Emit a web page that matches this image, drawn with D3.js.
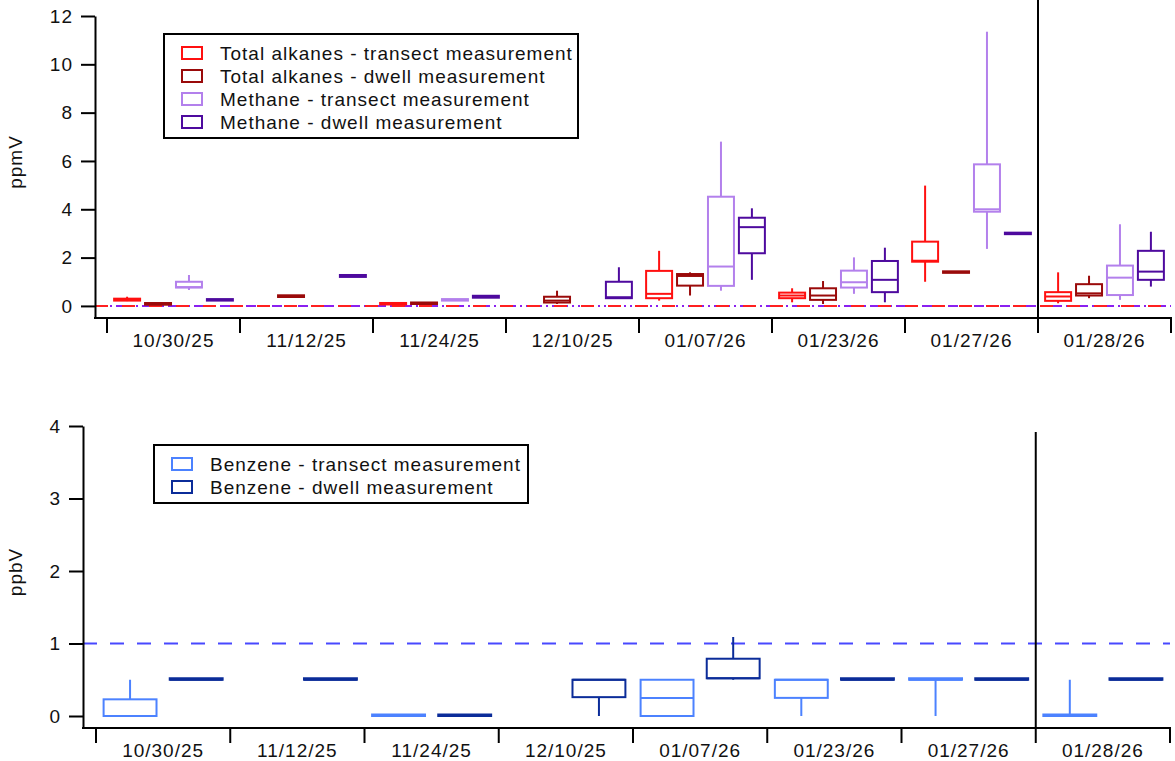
<!DOCTYPE html>
<html>
<head>
<meta charset="utf-8">
<script src="https://cdn.jsdelivr.net/npm/d3@7"></script>
<style>
  body { margin: 0; background: #fff; }
  text { font-family: "Liberation Sans", Arial, sans-serif; fill: #111; letter-spacing: 1px; }
</style>
</head>
<body>
<div id="chart"></div>
<script>

// categories (sampling dates)
var dates = ["10/30/25", "11/12/25", "11/24/25", "12/10/25", "01/07/26", "01/23/26", "01/27/26", "01/28/26"];

// box stats per date: [min, q1, median, q3, max], null = no measurement
var alkTransect = [
  [0.2, 0.22, 0.25, 0.3, 0.38], null, [0.06, 0.06, 0.08, 0.1, 0.1], null,
  [0.22, 0.32, 0.5, 1.45, 2.28], [0.15, 0.32, 0.43, 0.55, 0.73],
  [1.0, 1.83, 1.87, 2.66, 4.98], [0.11, 0.21, 0.39, 0.57, 1.39]
];
var alkDwell = [
  [0.05, 0.05, 0.08, 0.12, 0.12], [0.37, 0.37, 0.4, 0.44, 0.44],
  [0.08, 0.08, 0.1, 0.13, 0.13], [0.08, 0.14, 0.22, 0.38, 0.63],
  [0.43, 0.84, 1.24, 1.32, 1.39], [0.08, 0.25, 0.43, 0.73, 1.03],
  [1.37, 1.37, 1.4, 1.43, 1.43], [0.32, 0.43, 0.52, 0.9, 1.25]
];
var methTransect = [
  [0.66, 0.76, 0.78, 1.0, 1.28], null, [0.22, 0.22, 0.25, 0.28, 0.28], null,
  [0.63, 0.83, 1.63, 4.52, 6.8], [0.5, 0.76, 0.98, 1.46, 2.01],
  [2.36, 3.9, 4.0, 5.86, 11.35], [0.25, 0.45, 1.17, 1.67, 3.38]
];
var methDwell = [
  [0.22, 0.22, 0.25, 0.28, 0.28], [1.2, 1.2, 1.24, 1.28, 1.28],
  [0.34, 0.34, 0.38, 0.42, 0.42], [0.3, 0.32, 0.36, 1.0, 1.6],
  [1.08, 2.18, 3.26, 3.65, 4.04], [0.15, 0.57, 1.08, 1.86, 2.41],
  [2.97, 2.97, 3.0, 3.03, 3.03], [0.8, 1.08, 1.42, 2.28, 3.07]
];
var benzTransect = [
  [0, 0, 0, 0.23, 0.5], null, [0, 0, 0, 0, 0], null,
  [0, 0, 0.25, 0.5, 0.5], [0, 0.25, 0.5, 0.5, 0.5],
  [0, 0.5, 0.5, 0.5, 0.5], [0, 0, 0, 0, 0.5]
];
var benzDwell = [
  [0.5, 0.5, 0.5, 0.5, 0.5], [0.5, 0.5, 0.5, 0.5, 0.5], [0, 0, 0, 0, 0],
  [0, 0.26, 0.5, 0.5, 0.5], [0.5, 0.52, 0.52, 0.79, 1.09],
  [0.5, 0.5, 0.5, 0.5, 0.5], [0.5, 0.5, 0.5, 0.5, 0.5], [0.5, 0.5, 0.5, 0.5, 0.5]
];

var topSeries = [
  { name: "Total alkanes - transect measurement", color: "#ff1010", values: alkTransect },
  { name: "Total alkanes - dwell measurement", color: "#9a0a0a", values: alkDwell },
  { name: "Methane - transect measurement", color: "#b380ec", values: methTransect },
  { name: "Methane - dwell measurement", color: "#4e0a9e", values: methDwell }
];
var bottomSeries = [
  { name: "Benzene - transect measurement", color: "#4c82ff", values: benzTransect },
  { name: "Benzene - dwell measurement", color: "#0b2c99", values: benzDwell }
];

var topTicks = [0, 2, 4, 6, 8, 10, 12];
var bottomTicks = [0, 1, 2, 3, 4];

var fs = "19px";

var svg = d3.select("#chart").append("svg")
  .attr("width", 1175)
  .attr("height", 761);

function panel(opt) {
  var g = svg.append("g");

  var x = d3.scaleBand().domain(dates).range(opt.xRange);
  var inner = d3.scaleBand()
    .domain(opt.series.map(function (s) { return s.name; }))
    .range([0, x.bandwidth()])
    .paddingInner(opt.padIn)
    .paddingOuter(opt.padOut);
  var y = d3.scaleLinear().domain(opt.yDomain).range(opt.yRange);

  // reference lines
  opt.refLines.forEach(function (r) {
    g.append("line")
      .attr("x1", opt.axisX).attr("x2", opt.xRange[1])
      .attr("y1", y(r.value)).attr("y2", y(r.value))
      .attr("stroke", r.color).attr("stroke-width", 2)
      .attr("stroke-dasharray", r.dash);
  });

  // boxes
  opt.series.forEach(function (s) {
    var bw = inner.bandwidth();
    var items = dates.map(function (d, i) { return { date: d, v: s.values[i] }; })
      .filter(function (d) { return d.v; });
    var bx = g.append("g").selectAll("g").data(items).enter().append("g")
      .attr("transform", function (d) { return "translate(" + (x(d.date) + inner(s.name)) + ",0)"; })
      .attr("stroke", s.color).attr("stroke-width", 2).attr("fill", "none");

    bx.append("line")
      .attr("x1", bw / 2).attr("x2", bw / 2)
      .attr("y1", function (d) { return y(d.v[4]); })
      .attr("y2", function (d) { return y(d.v[3]); });
    bx.append("line")
      .attr("x1", bw / 2).attr("x2", bw / 2)
      .attr("y1", function (d) { return y(d.v[1]); })
      .attr("y2", function (d) { return y(d.v[0]); });
    bx.append("rect")
      .attr("x", 0).attr("width", bw)
      .attr("y", function (d) { return Math.min(y(d.v[3]), y(d.v[1]) - 1.5); })
      .attr("height", function (d) { return Math.max(y(d.v[1]) - y(d.v[3]), 1.5); })
      .attr("fill", "#fff");
    bx.append("line")
      .attr("x1", 0).attr("x2", bw)
      .attr("y1", function (d) { return y(d.v[2]); })
      .attr("y2", function (d) { return y(d.v[2]); });
  });

  // divider before last date
  var last = dates[dates.length - 1];
  g.append("line")
    .attr("x1", x(last)).attr("x2", x(last))
    .attr("y1", opt.divTop).attr("y2", opt.yRange[0])
    .attr("stroke", "#000").attr("stroke-width", 2);

  // y axis
  var yAxis = g.append("g")
    .attr("transform", "translate(" + opt.axisX + ",0)")
    .call(d3.axisLeft(y).tickValues(opt.ticks).tickFormat(d3.format("d"))
      .tickSize(14).tickPadding(8).tickSizeOuter(0));
  yAxis.select(".domain").attr("stroke-width", 2);
  yAxis.selectAll(".tick line").attr("stroke-width", 2);
  yAxis.selectAll("text")
    .attr("font-size", null).attr("font-family", null)
    .style("font-size", fs);

  // x axis: line, boundary ticks, centred labels
  var base = opt.yRange[0];
  g.append("line")
    .attr("x1", opt.axisX - 1).attr("x2", opt.xRange[1] + 1)
    .attr("y1", base).attr("y2", base)
    .attr("stroke", "#000").attr("stroke-width", 2);
  var bounds = dates.map(function (d) { return x(d); }).concat([opt.xRange[1]]);
  g.selectAll(".xt").data(bounds).enter().append("line")
    .attr("x1", function (d) { return d; }).attr("x2", function (d) { return d; })
    .attr("y1", base).attr("y2", base + 15)
    .attr("stroke", "#000").attr("stroke-width", 2);
  g.selectAll(".xl").data(dates).enter().append("text")
    .attr("x", function (d) { return x(d) + x.bandwidth() / 2; })
    .attr("y", base + 29)
    .attr("text-anchor", "middle")
    .style("font-size", fs)
    .text(function (d) { return d; });

  // y title
  g.append("text")
    .attr("transform", "translate(" + opt.titleX + "," + opt.titleY + ") rotate(-90)")
    .attr("text-anchor", "middle")
    .style("font-size", fs)
    .text(opt.title);

  // legend
  var L = opt.legend;
  g.append("rect")
    .attr("x", L.x).attr("y", L.y).attr("width", L.w).attr("height", L.h)
    .attr("fill", "#fff").attr("stroke", "#000").attr("stroke-width", 2);
  opt.series.forEach(function (s, i) {
    var cy = L.y + 19 + i * 23;
    g.append("rect")
      .attr("x", L.x + 18).attr("y", cy - 6).attr("width", 20).attr("height", 12)
      .attr("fill", "#fff").attr("stroke", s.color).attr("stroke-width", 2);
    g.append("text")
      .attr("x", L.x + 56).attr("y", cy + 6.5)
      .style("font-size", fs)
      .text(s.name);
  });
}

panel({
  series: topSeries,
  xRange: [107, 1171],
  padIn: 0.16, padOut: 0.23,
  yDomain: [-0.5, 12], yRange: [318, 16],
  ticks: topTicks,
  axisX: 95,
  divTop: 0,
  refLines: [
    { value: 0, color: "#8a20f0", dash: "5,4,2,4,2,4,5,0" },
    { value: 0, color: "#ff2020", dash: "13,14" }
  ],
  title: "ppmV", titleX: 22, titleY: 162,
  legend: { x: 164, y: 34, w: 414, h: 104 }
});

panel({
  series: bottomSeries,
  xRange: [96, 1170],
  padIn: 0.2, padOut: 0.115,
  yDomain: [-0.1655, 4], yRange: [728, 426],
  ticks: bottomTicks,
  axisX: 83,
  divTop: 432,
  refLines: [
    { value: 1, color: "#4848ff", dash: "14,13" }
  ],
  title: "ppbV", titleX: 22, titleY: 572,
  legend: { x: 154, y: 445, w: 374, h: 58 }
});

</script>
</body>
</html>
